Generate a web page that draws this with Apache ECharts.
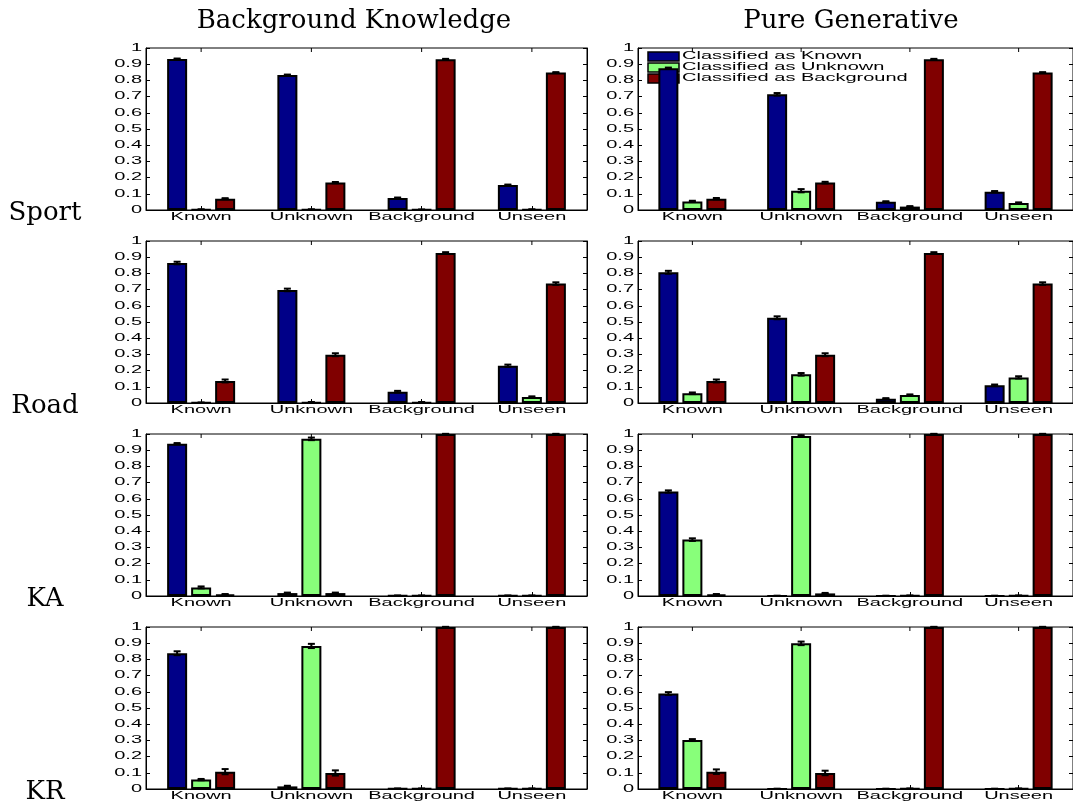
<!DOCTYPE html>
<html>
<head>
<meta charset="utf-8">
<script src="https://cdn.jsdelivr.net/npm/echarts@6/dist/echarts.min.js"></script>
<style>
  html, body { margin: 0; padding: 0; background: #fff; }
  #chart { width: 1073px; height: 808px; }
</style>
</head>
<body>
<div id="chart"></div>
<script>
// ---- data ----
const categories = ['Known', 'Unknown', 'Background', 'Unseen'];
const seriesNames = ['Classified as Known', 'Classified as Unknown', 'Classified as Background'];
const columnTitles = ['Background Knowledge', 'Pure Generative'];
const rowTitles = ['Sport', 'Road', 'KA', 'KR'];
const yTickValues = [0, 0.1, 0.2, 0.3, 0.4, 0.5, 0.6, 0.7, 0.8, 0.9, 1];
const yTickLabels = ['0', '0.1', '0.2', '0.3', '0.4', '0.5', '0.6', '0.7', '0.8', '0.9', '1'];

// each block: one row per classification result, one column per test set
const sportBackground = [[0.932, 0.833, 0.074, 0.154], [0.003, 0.003, 0.002, 0.003], [0.070, 0.169, 0.930, 0.848]];
const sportBackgroundErr = [[0.003, 0.003, 0.003, 0.003], [0.001, 0.001, 0.001, 0.001], [0.003, 0.004, 0.003, 0.003]];
const sportGenerative = [[0.875, 0.714, 0.051, 0.113], [0.053, 0.119, 0.021, 0.043], [0.070, 0.169, 0.930, 0.848]];
const sportGenerativeErr = [[0.004, 0.008, 0.003, 0.004], [0.004, 0.010, 0.003, 0.004], [0.004, 0.005, 0.003, 0.003]];
const roadBackground = [[0.864, 0.698, 0.070, 0.230], [0.002, 0.004, 0.004, 0.037], [0.136, 0.298, 0.926, 0.737]];
const roadBackgroundErr = [[0.008, 0.008, 0.005, 0.007], [0.001, 0.002, 0.002, 0.004], [0.009, 0.009, 0.005, 0.008]];
const roadGenerative = [[0.807, 0.526, 0.027, 0.109], [0.060, 0.177, 0.049, 0.158], [0.136, 0.298, 0.926, 0.737]];
const roadGenerativeErr = [[0.009, 0.009, 0.003, 0.005], [0.005, 0.008, 0.004, 0.007], [0.009, 0.009, 0.005, 0.008]];
const kaBackground = [[0.940, 0.018, 0.002, 0.002], [0.053, 0.970, 0.002, 0.002], [0.010, 0.018, 1.000, 1.000]];
const kaBackgroundErr = [[0.004, 0.003, 0.001, 0.001], [0.006, 0.008, 0.001, 0.001], [0.002, 0.003, 0.001, 0.001]];
const kaGenerative = [[0.645, 0.001, 0.001, 0.001], [0.348, 0.988, 0.002, 0.002], [0.010, 0.016, 1.000, 1.000]];
const kaGenerativeErr = [[0.007, 0.001, 0.001, 0.001], [0.008, 0.005, 0.001, 0.001], [0.002, 0.003, 0.001, 0.001]];
const krBackground = [[0.838, 0.016, 0.002, 0.002], [0.058, 0.883, 0.002, 0.002], [0.107, 0.099, 1.000, 1.000]];
const krBackgroundErr = [[0.012, 0.004, 0.001, 0.001], [0.004, 0.013, 0.001, 0.001], [0.016, 0.016, 0.001, 0.001]];
const krGenerative = [[0.589, 0.001, 0.001, 0.001], [0.302, 0.899, 0.002, 0.002], [0.107, 0.099, 1.000, 1.000]];
const krGenerativeErr = [[0.009, 0.001, 0.001, 0.001], [0.006, 0.011, 0.001, 0.001], [0.014, 0.014, 0.001, 0.001]];

// ---- layout & style ----
const panels = [
  [sportBackground, sportBackgroundErr], [sportGenerative, sportGenerativeErr],
  [roadBackground, roadBackgroundErr], [roadGenerative, roadGenerativeErr],
  [kaBackground, kaBackgroundErr], [kaGenerative, kaGenerativeErr],
  [krBackground, krBackgroundErr], [krGenerative, krGenerativeErr]
];
const COLORS = ['#000088', '#88ff7a', '#800000'];
const GRID_LEFT = [146, 638];
const GRID_TOP = [48, 241, 434, 627];
const GRID_W = 441, GRID_H = 162;
const BAR_WIDTH = 20, BAR_GAP = '20%';
const SANS = '"Liberation Sans", Arial, sans-serif';
const SERIF = '"DejaVu Serif", serif';
const TICK_FONT = '10px ' + SANS;
const STRETCH = 2.0;   // wide tick lettering

const grid = [], xAxis = [], yAxis = [], series = [];

const axisLine = { show: true, onZero: false, lineStyle: { color: '#000', width: 1 } };
const tickStyle = { stroke: '#000', lineWidth: 1 };

panels.forEach(([values, errors], i) => {
  const row = Math.floor(i / 2), col = i % 2;
  // the grid border draws the closed box around each panel
  grid.push({ left: GRID_LEFT[col], top: GRID_TOP[row], width: GRID_W, height: GRID_H,
              show: true, borderColor: '#000', borderWidth: 1, backgroundColor: 'transparent' });

  xAxis.push({
    type: 'category', data: categories, gridIndex: i, position: 'bottom',
    axisLine, axisLabel: { show: false },
    axisTick: { show: true, inside: true, alignWithLabel: true, length: 4, lineStyle: { color: '#000' } },
    splitLine: { show: false }
  });

  const yBase = {
    type: 'value', min: 0, max: 1, interval: 0.1, gridIndex: i,
    axisLine, axisLabel: { show: false },
    axisTick: { show: true, inside: true, length: 4, lineStyle: { color: '#000' } },
    splitLine: { show: false }
  };
  yAxis.push(Object.assign({ position: 'left' }, yBase));
  yAxis.push(Object.assign({ position: 'right' }, yBase));

  const xi = i, yi = 2 * i;

  values.forEach((vals, s) => {
    series.push({
      type: 'bar', name: seriesNames[s], xAxisIndex: xi, yAxisIndex: yi,
      data: vals, barWidth: BAR_WIDTH, barGap: BAR_GAP,
      itemStyle: { color: COLORS[s], borderColor: '#000', borderWidth: 2 },
      silent: true, z: 2
    });
  });

  // error bars
  const errData = [];
  values.forEach((vals, s) => vals.forEach((v, c) => errData.push([c, v, errors[s][c], s])));
  series.push({
    type: 'custom', xAxisIndex: xi, yAxisIndex: yi, data: errData, z: 5, silent: true, clip: false,
    encode: { x: 0, y: 1 },
    renderItem(params, api) {
      const c = api.value(0), v = api.value(1), e = api.value(2), s = api.value(3);
      const layout = api.barLayout({ count: 3, barWidth: BAR_WIDTH, barGap: BAR_GAP });
      const x = api.coord([c, v])[0] + layout[s].offsetCenter;
      const yHi = api.coord([c, v + e])[1], yLo = api.coord([c, Math.max(0, v - e)])[1];
      const st = { stroke: '#000', lineWidth: 2 };
      return {
        type: 'group', children: [
          { type: 'line', shape: { x1: x, y1: yHi, x2: x, y2: yLo }, style: st },
          { type: 'line', shape: { x1: x - 3.5, y1: yHi, x2: x + 3.5, y2: yHi }, style: st },
          { type: 'line', shape: { x1: x - 3.5, y1: yLo, x2: x + 3.5, y2: yLo }, style: st }
        ]
      };
    }
  });

  // category labels under the axis, with matching tick marks hanging from the top border
  series.push({
    type: 'custom', xAxisIndex: xi, yAxisIndex: yi, silent: true, clip: false, z: 6,
    data: categories.map((_, c) => [c, 0]), encode: { x: 0, y: 1 },
    renderItem(params, api) {
      const c = api.value(0);
      const p = api.coord([c, 0]);
      const top = api.coord([c, 1])[1];
      return {
        type: 'group', children: [
          { type: 'line', shape: { x1: p[0], y1: top, x2: p[0], y2: top + 4 }, style: tickStyle },
          {
            type: 'text', x: p[0], y: p[1] + 2, scaleX: STRETCH,
            style: { text: categories[c], x: 0, y: 0, font: TICK_FONT, fill: '#000',
                     textAlign: 'center', textVerticalAlign: 'top', align: 'center', verticalAlign: 'top' }
          }
        ]
      };
    }
  });

  // value labels left of the axis
  series.push({
    type: 'custom', xAxisIndex: xi, yAxisIndex: yi, silent: true, clip: false, z: 6,
    data: yTickValues.map((v, k) => [0, v, k]), encode: { x: 0, y: 1 },
    renderItem(params, api) {
      const v = api.value(1), k = api.value(2);
      const y = api.coord([0, v])[1];
      return {
        type: 'text', x: params.coordSys.x - 4, y: y, scaleX: STRETCH,
        style: { text: yTickLabels[k], x: 0, y: 0, font: TICK_FONT, fill: '#000',
                 textAlign: 'right', textVerticalAlign: 'middle', align: 'right', verticalAlign: 'middle' }
      };
    }
  });
});

// legend inside the top-right panel
const legendItems = [];
seriesNames.forEach((name, s) => {
  legendItems.push({ type: 'rect', shape: { x: 0, y: s * 11, width: 31, height: 9 },
    style: { fill: COLORS[s], stroke: '#000', lineWidth: 1.5 } });
  legendItems.push({ type: 'text', x: 34, y: s * 11 + 4.5, scaleX: STRETCH,
    style: { text: name, x: 0, y: 0, font: TICK_FONT, fill: '#000',
             textAlign: 'left', textVerticalAlign: 'middle', align: 'left', verticalAlign: 'middle' } });
});

const graphic = [
  { type: 'group', x: 648, y: 52, z: 100, children: legendItems }
];
const titleCenters = [354, 851];
columnTitles.forEach((t, c) => graphic.push({
  type: 'text', x: titleCenters[c], y: 21, z: 100,
  style: { text: t, font: '26px ' + SERIF, fill: '#000', textAlign: 'center', textVerticalAlign: 'middle', align: 'center', verticalAlign: 'middle' }
}));
rowTitles.forEach((t, r) => graphic.push({
  type: 'text', x: 45, y: GRID_TOP[r] + 165, z: 100,
  style: { text: t, font: '26px ' + SERIF, fill: '#000', textAlign: 'center', textVerticalAlign: 'middle', align: 'center', verticalAlign: 'middle' }
}));

const chart = echarts.init(document.getElementById('chart'), null, { renderer: 'canvas' });
chart.setOption({
  animation: false,
  backgroundColor: '#fff',
  grid, xAxis, yAxis, series, graphic
});
</script>
</body>
</html>
